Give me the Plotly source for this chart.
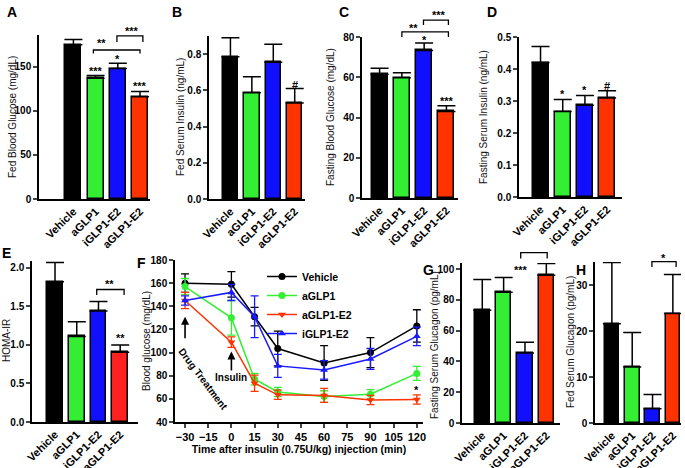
import plotly.graph_objects as go

W, H = 685, 468
FONT = "Liberation Sans, Arial, sans-serif"
NARROW = "Liberation Sans Narrow, Arial Narrow, Liberation Sans, sans-serif"

# ---- data ----
groups = ["Vehicle", "aGLP1", "iGLP1-E2", "aGLP1-E2"]

fed_glucose = [175, 137, 148, 116]
fed_glucose_sem = [6, 3, 6, 6]

fed_insulin = [0.785, 0.587, 0.755, 0.53]
fed_insulin_sem = [0.105, 0.088, 0.10, 0.08]

fasting_glucose = [61.5, 59.7, 73.3, 43.0]
fasting_glucose_sem = [3.0, 2.5, 3.7, 2.8]

fasting_insulin = [0.42, 0.267, 0.287, 0.309]
fasting_insulin_sem = [0.05, 0.038, 0.03, 0.023]

homa_ir = [1.82, 1.11, 1.44, 0.905]
homa_ir_sem = [0.25, 0.19, 0.125, 0.095]

fasting_glucagon = [73.3, 85.0, 45.5, 96.0]
fasting_glucagon_sem = [20.0, 9.6, 7.0, 7.7]

fed_glucagon = [21.6, 12.2, 3.1, 23.8]
fed_glucagon_sem = [13.3, 7.5, 3.1, 8.5]

# insulin tolerance test (panel F)
itt_time = [-30, 0, 15, 30, 60, 90, 120]
itt_vehicle = [160, 159, 131, 103.5, 91, 100, 123]
itt_vehicle_sem = [8, 11, 8, 15, 15, 13, 14]
itt_aglp1 = [157, 130, 77, 66, 62, 64, 82]
itt_aglp1_sem = [7, 15, 5, 4, 5, 4, 6]
itt_aglp1_e2 = [145, 109, 73.5, 63.5, 63, 59, 59.5]
itt_aglp1_e2_sem = [7, 4.5, 7, 4, 6, 4, 4]
itt_iglp1_e2 = [145, 152, 131, 88.5, 85, 94.5, 114]
itt_iglp1_e2_sem = [4, 7, 18, 10, 8, 9, 8]

bar_colors = ["#000000", "#33ee33", "#1010ff", "#ff3300"]
green, red, blue = "#33ee33", "#ff3300", "#1a1aff"


def xdom(a, b):
    return [a / W, b / W]


def ydom(top, bottom):
    return [1 - bottom / H, 1 - top / H]


fig = go.Figure()
layout = {}
annotations = []
shapes = []
ranges = {}

tick_font = dict(family=NARROW, size=10, color="black", weight="bold")
cat_font = dict(family=NARROW, size=11, color="black", weight="bold")
letter_font = dict(family=FONT, size=14, color="black", weight="bold")
title_font = dict(family=FONT, size=10, color="#111")


def y_title(text, xpix, ypix):
    annotations.append(dict(text=text, xref="paper", yref="paper", x=xpix / W, y=1 - ypix / H,
                            textangle=-90, showarrow=False, xanchor="center", yanchor="middle",
                            font=title_font))


# bar panels: (id, means, sems, y title, title pos, xpix, ypix, xrange, yrange, dtick, tickformat, letter, letterpos)
bar_panels = [
    (1, fed_glucose, fed_glucose_sem, "Fed Blood Glucose (mg/dL)", (12, 117), (39, 150), (35, 199),
     [-1.55, 3.45], [0, 186], 50, "", "A", (5, 2)),
    (2, fed_insulin, fed_insulin_sem, "Fed Serum Insulin (ng/mL)", (180, 117), (209, 305), (36, 199),
     [-1.0, 3.48], [0, 0.9], 0.2, ".1f", "B", (170, 2)),
    (3, fasting_glucose, fasting_glucose_sem, "Fasting Blood Glucose (mg/dL)", (330, 117), (362, 458), (37, 198),
     [-0.79, 3.52], [0, 80], 20, "", "C", (337, 2)),
    (4, fasting_insulin, fasting_insulin_sem, "Fasting Serum Insulin (ng/mL)", (483, 117), (519, 622), (37, 197),
     [-0.97, 3.67], [0, 0.5], 0.1, ".1f", "D", (485, 2)),
    (5, homa_ir, homa_ir_sem, "HOMA-IR", (6, 341), (32, 138), (261, 422),
     [-1.06, 3.82], [0, 2.09], 0.5, ".1f", "E", (0, 243)),
    (7, fasting_glucagon, fasting_glucagon_sem, "Fasting Serum Glucagon (pg/mL)", (434, 345), (462, 560), (263, 423),
     [-0.95, 3.64], [0, 104], 20, "", "G", (421, 260)),
    (8, fed_glucagon, fed_glucagon_sem, "Fed Serum Glucagon (pg/mL)", (570, 342), (595, 681), (262, 423),
     [-0.83, 3.4], [0, 35], 10, "", "H", (574, 260)),
]

axis_common = dict(showline=True, linecolor="black", linewidth=1.5, showgrid=False,
                   zeroline=False, fixedrange=True, automargin=False)

for pid, means, sems, ytitle, tpos, xp, yp, xr, yr, dt, tf, letter, lpos in bar_panels:
    sfx = "" if pid == 1 else str(pid)
    ranges[sfx] = (xr, yr)
    cols = bar_colors if pid != 5 else ["#000000", "#33ee33", "#1010ff", "#ff2020"]
    fig.add_trace(go.Bar(
        x=list(range(len(groups))), y=means, width=0.72,
        marker=dict(color=cols, line=dict(color="black", width=1.5)),
        error_y=dict(type="data", symmetric=False, array=sems, arrayminus=[0] * len(sems),
                     color="black", thickness=1.5, width=9),
        xaxis="x" + sfx, yaxis="y" + sfx, showlegend=False,
    ))
    layout["xaxis" + sfx] = dict(
        axis_common, domain=xdom(*xp), range=xr, anchor="y" + sfx,
        tickvals=list(range(len(groups))), ticktext=groups, tickangle=-45, ticks="",
        tickfont=cat_font,
    )
    layout["yaxis" + sfx] = dict(
        axis_common, domain=ydom(*yp), range=yr, anchor="x" + sfx,
        dtick=dt, tick0=0, tickformat=tf, ticks="outside", ticklen=4, tickwidth=1.5,
        tickfont=tick_font,
    )
    y_title(ytitle, *tpos)
    annotations.append(dict(text=letter, xref="paper", yref="paper", x=lpos[0] / W, y=1 - lpos[1] / H,
                            xanchor="left", yanchor="top", showarrow=False, font=letter_font))

# ---- panel F: time course ----
itt_series = [
    ("Vehicle", itt_vehicle, itt_vehicle_sem, "black", "circle"),
    ("aGLP1", itt_aglp1, itt_aglp1_sem, green, "circle"),
    ("aGLP1-E2", itt_aglp1_e2, itt_aglp1_e2_sem, red, "triangle-down"),
    ("iGLP1-E2", itt_iglp1_e2, itt_iglp1_e2_sem, blue, "triangle-up"),
]
for name, ys, es, c, sym in itt_series:
    fig.add_trace(go.Scatter(
        x=itt_time, y=ys, name=name, mode="lines+markers",
        line=dict(color=c, width=1.5), marker=dict(color=c, size=7, symbol=sym),
        error_y=dict(type="data", array=es, color=c, thickness=1.3, width=4),
        xaxis="x6", yaxis="y6",
    ))
layout["xaxis6"] = dict(
    axis_common, domain=xdom(175, 423), range=[-36.5, 124], anchor="y6",
    tickvals=[-30, -15, 0, 15, 30, 45, 60, 75, 90, 105, 120], ticks="outside", ticklen=4, tickwidth=1.5,
    tickfont=cat_font,
    title=dict(text="Time after insulin (0.75U/kg) injection (min)",
               font=dict(family=FONT, size=10.5, color="black", weight="bold"), standoff=3),
)
layout["yaxis6"] = dict(
    axis_common, domain=ydom(260, 422), range=[40, 180], anchor="x6",
    dtick=20, ticks="outside", ticklen=4, tickwidth=1.5,
    tickfont=tick_font,
)
y_title("Blood glucose (mg/dL)", 146, 341)
annotations.append(dict(text="F", xref="paper", yref="paper", x=135 / W, y=1 - 253 / H,
                        xanchor="left", yanchor="top", showarrow=False, font=letter_font))
small_bold = dict(family=FONT, size=10, color="black", weight="bold")
annotations += [
    dict(x=-30, y=131, ax=-30, ay=111, xref="x6", yref="y6", axref="x6", ayref="y6",
         text="", showarrow=True, arrowhead=2, arrowsize=1, arrowwidth=1.6, arrowcolor="black"),
    dict(x=-18, y=77, xref="x6", yref="y6", text="Drug Treatment", textangle=53,
         showarrow=False, font=small_bold),
    dict(x=0, y=101, xref="x6", yref="y6", text="Insulin", showarrow=True, ax=0, ay=26,
         arrowhead=2, arrowsize=1, arrowwidth=1.6, arrowcolor="black", font=small_bold),
    dict(x=120, y=70, xref="x6", yref="y6", text="*", showarrow=False, yshift=-3,
         font=dict(family=FONT, size=11, color="black", weight="bold")),
]

# ---- significance marks (placed in axis-domain units so marks above the range still show) ----
sig_marks = {
    "": [(1, 149, "***"), (2, 162, "*"), (3, 132, "***"), (1.28, 180, "**"), (2.63, 194, "***")],
    "2": [(3, 0.647, "#")],
    "3": [(2.02, 79.8, "*"), (1.52, 86, "**"), (2.65, 92.5, "***"), (3.03, 49.7, "***")],
    "4": [(1, 0.332, "*"), (2, 0.343, "*"), (3, 0.357, "#")],
    "5": [(2.53, 1.83, "**"), (3.03, 1.13, "**")],
    "7": [(1.81, 101.6, "***")],
    "8": [(2.55, 36.5, "*")],
}
brackets = {
    "": [(0.9, 3.0, 169, 165), (1.96, 3.13, 185, 178)],
    "3": [(1.0, 3.09, 82.5, 80), (1.97, 3.09, 88.4, 86)],
    "5": [(1.92, 3.18, 1.72, 1.65)],
    "7": [(1.8, 3.04, 110.7, 107)],
    "8": [(1.97, 3.16, 35.1, 33.9)],
}


def frac(v, r):
    return (v - r[0]) / (r[1] - r[0])


for sfx, marks in sig_marks.items():
    xr, yr = ranges[sfx]
    for x, y, t in marks:
        annotations.append(dict(x=frac(x, xr), y=frac(y, yr), xref=f"x{sfx} domain", yref=f"y{sfx} domain",
                                xanchor="center", yanchor="middle",
                                text=t, showarrow=False, yshift=-3,
                                font=dict(family=FONT, size=11, color="black", weight="bold")))
for sfx, brs in brackets.items():
    xr, yr = ranges[sfx]
    for x0, x1, ytop, ybot in brs:
        a, b = frac(x0, xr), frac(x1, xr)
        t, u = frac(ytop, yr), frac(ybot, yr)
        shapes.append(dict(type="path", xref=f"x{sfx} domain", yref=f"y{sfx} domain",
                           path=f"M {a},{u} L {a},{t} L {b},{t} L {b},{u}",
                           line=dict(color="black", width=1.3)))

fig.update_layout(
    width=W, height=H, margin=dict(l=0, r=0, t=0, b=0),
    plot_bgcolor="white", paper_bgcolor="white",
    font=dict(family=FONT, color="black"),
    annotations=annotations, shapes=shapes,
    legend=dict(x=262 / W, y=1 - 262 / H, xanchor="left", yanchor="top",
                bgcolor="rgba(0,0,0,0)", itemwidth=30, tracegroupgap=0,
                font=dict(family=FONT, size=10.5, color="black", weight="bold")),
    bargap=0,
    **layout,
)

# page body has a default 8px margin; drop it so the figure sits at the window corner
fig.write_html("out.html", config={"displayModeBar": False},
               post_script="document.body.style.margin='0px';")
